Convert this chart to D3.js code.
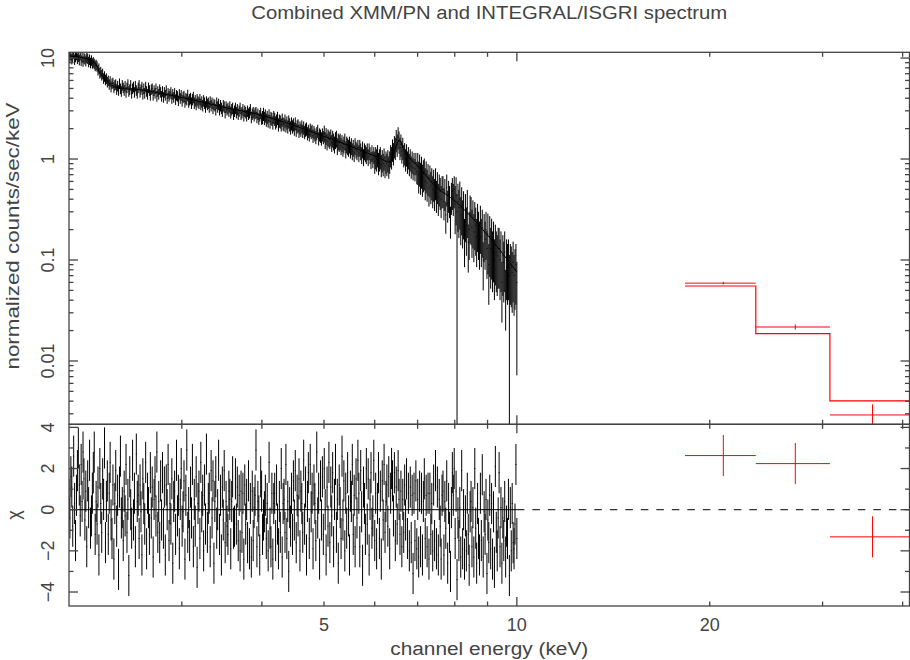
<!DOCTYPE html>
<html><head><meta charset="utf-8">
<script src="https://cdn.jsdelivr.net/npm/d3@7"></script>
<style>
body{margin:0;background:#fff}
svg{display:block}
text{font-family:"Liberation Sans",Arial,sans-serif;fill:#444;font-size:18px}
</style>
</head><body><svg id="c" width="910" height="660"></svg>
<script>
// ---------- data ----------
const title = "Combined XMM/PN and INTEGRAL/ISGRI spectrum";
const xTitle = "channel energy (keV)";
const yTopTitle = "normalized counts/sec/keV";
const yBotTitle = "\u03c7";

// XMM/PN channel grid: first and last channel centre (keV), channels evenly spaced in log E
const chanRange = [2.0, 10.0];

// XMM/PN normalized counts/sec/keV, one value per channel
const pnRate = [
 10.9,10.1,10.7,9.8,10.4,11.2,9.7,10.3,10.8,9.9,
 10.4,9.6,10.9,9.5,10.2,9.3,10.0,9.8,9.4,10.1,
 9.9,9.2,9.7,9.0,9.5,8.9,9.1,8.8,8.4,8.6,
 8.3,7.6,7.9,7.1,7.3,6.8,7.0,6.3,6.6,6.1,
 6.3,5.8,6.0,5.5,5.9,5.2,5.6,5.7,5.1,5.4,
 5.5,4.9,5.3,4.8,5.6,5.0,4.7,5.4,5.1,4.8,
 5.3,4.6,5.1,5.5,4.7,4.9,5.4,4.5,5.0,5.2,
 4.6,5.3,4.8,4.5,5.1,5.4,4.6,4.9,5.2,4.4,
 5.0,4.5,5.2,4.7,4.4,5.1,4.8,4.3,4.9,5.0,
 4.3,4.8,4.5,5.0,4.2,4.7,4.4,4.9,4.6,4.2,
 4.7,4.1,4.6,4.3,4.8,4.0,4.5,4.2,4.4,4.6,
 4.0,4.4,4.1,4.5,3.9,4.3,4.2,3.8,4.4,4.0,
 4.3,3.8,4.1,4.2,3.7,4.0,3.9,4.3,3.7,3.9,
 4.0,3.6,3.9,4.1,3.6,3.8,3.5,3.9,3.7,3.6,
 3.9,3.5,3.7,3.4,3.8,3.6,3.3,3.7,3.5,3.6,
 3.3,3.7,3.4,3.6,3.2,3.5,3.4,3.1,3.6,3.3,
 3.5,3.1,3.4,3.2,3.0,3.4,3.3,2.9,3.3,3.1,
 3.2,3.0,3.3,2.9,3.1,3.2,2.8,3.0,3.2,2.9,
 3.1,2.8,3.0,3.2,2.8,2.9,3.1,2.7,3.0,2.9,
 2.7,3.0,2.8,2.9,3.1,2.6,2.8,2.9,2.7,2.85,
 2.9,2.6,2.8,2.5,2.7,2.85,2.5,2.6,2.8,2.55,
 2.7,2.45,2.6,2.4,2.7,2.35,2.55,2.5,2.3,2.6,
 2.5,2.3,2.4,2.55,2.2,2.4,2.35,2.2,2.45,2.25,
 2.2,2.4,2.15,2.3,2.1,2.35,2.2,2.05,2.25,2.1,
 2.2,2.0,2.25,1.95,2.1,2.15,1.9,2.05,1.95,2.1,
 1.9,2.05,1.85,1.95,2.0,1.8,1.9,1.75,1.95,1.85,
 1.9,1.7,1.85,1.75,1.65,1.8,1.9,1.6,1.75,1.7,
 1.6,1.75,1.65,1.8,1.55,1.7,1.5,1.65,1.6,1.55,
 1.65,1.45,1.6,1.5,1.4,1.55,1.6,1.35,1.5,1.45,
 1.5,1.35,1.45,1.3,1.4,1.5,1.25,1.4,1.35,1.3,
 1.4,1.25,1.35,1.2,1.3,1.15,1.35,1.25,1.2,1.3,
 1.15,1.3,1.2,1.1,1.25,1.05,1.2,1.15,1.1,1.2,
 1.05,1.2,1.1,0.98,1.15,1.0,1.1,0.95,1.05,1.0,
 1.1,0.92,1.0,1.05,0.88,0.98,0.9,1.02,0.86,0.95,
 0.9,0.98,0.85,0.95,1.1,1.05,1.25,1.15,1.35,1.3,
 1.55,1.4,1.65,1.5,1.3,1.4,1.2,1.3,1.1,1.15,
 1.0,1.12,0.95,1.05,0.9,1.0,0.85,0.95,0.82,0.92,
 0.8,0.92,0.75,0.85,0.7,0.82,0.68,0.78,0.65,0.72,
 0.75,0.6,0.7,0.58,0.66,0.52,0.64,0.55,0.6,0.5,
 0.58,0.47,0.6,0.45,0.55,0.42,0.52,0.48,0.4,0.5,
 0.5,0.38,0.47,0.28,0.52,0.36,0.45,0.4,0.25,0.43,
 0.48,0.42,0.5,0.36,0.44,0.3,0.38,0.33,0.4,0.28,
 0.35,0.26,0.32,0.17,0.3,0.22,0.33,0.15,0.2,0.29,
 0.28,0.21,0.26,0.19,0.25,0.22,0.17,0.24,0.2,0.16,
 0.23,0.17,0.21,0.1,0.19,0.16,0.2,0.13,0.18,0.09,
 0.17,0.13,0.16,0.12,0.15,0.1,0.14,0.12,0.11,0.13,
 0.13,0.1,0.12,0.06,0.11,0.095,0.12,0.05,0.1,0.09,
 0.1,0.07,0.09,0.085,0.075,0.095,0.07,0.08,0.09,0.06
];

// XMM/PN residuals (chi), one value per channel
const pnChi = [
 0.5,-0.4,1.6,1.1,-0.8,2.6,0.3,-1.5,0.7,1.9,
 3.0,1.2,-0.3,2.2,0.4,2.8,1.5,-0.5,0.9,-1.8,
 1.4,0.1,2.4,-0.9,-0.3,0.8,1.8,2.8,-1.2,0.4,
 -0.7,1.1,-2.2,2.0,0.3,-1.1,1.5,0.5,3.0,-1.6,
 0.4,1.4,-1.2,0.8,2.3,-0.5,-1.4,1.2,-2.4,0.3,
 1.9,-0.8,0.7,-2.9,1.1,2.6,-0.4,0.1,-1.5,0.9,
 -0.3,2.2,-1.1,0.5,-3.2,1.6,0.0,-0.9,2.4,-0.5,
 0.8,-1.8,2.7,0.4,0.7,-1.4,1.2,-0.1,-2.2,1.5,
 0.3,-0.7,2.3,-1.9,0.8,0.1,-1.2,1.8,-0.4,1.1,
 -2.3,0.5,1.6,-0.3,2.8,-1.1,0.4,-1.6,1.4,-0.5,
 1.8,-0.9,1.1,-2.2,1.2,0.0,2.2,-1.5,0.3,-0.7,
 1.5,-2.6,0.4,0.9,-1.2,2.4,-0.3,0.7,-1.9,0.5,
 2.0,-0.8,-0.1,1.4,-2.4,0.7,2.9,-1.1,0.1,-1.5,
 1.1,-0.4,2.2,-1.8,0.5,-0.8,1.6,-2.8,0.3,0.9,
 -1.4,2.3,-0.1,0.7,-2.0,1.2,-0.7,2.7,-1.1,0.3,
 0.8,-1.8,1.9,-0.4,1.4,-2.6,0.4,1.6,-0.9,0.0,
 2.4,-1.2,0.7,-2.2,1.1,-0.5,1.9,-1.6,0.4,-0.8,
 -1.2,0.9,0.5,-1.9,0.4,1.6,-0.9,-0.8,1.5,-0.7,
 1.1,-1.5,0.7,-2.0,0.9,-1.1,0.8,-2.4,1.2,-0.7,
 0.5,-1.6,1.4,-1.9,0.3,-2.3,0.9,-1.5,0.1,0.7,
 2.9,-1.8,0.4,-0.3,-2.2,1.6,0.9,-1.2,-0.5,-0.1,
 0.7,-1.4,0.3,-2.0,2.3,-0.9,-1.8,0.8,-2.4,0.3,
 0.8,-1.5,1.2,-0.7,-1.9,0.4,-1.1,2.0,-2.3,0.3,
 0.5,-1.1,2.2,-1.4,0.4,-3.0,0.1,-0.8,0.8,-1.2,
 1.4,-0.5,1.9,-1.6,0.7,-0.3,1.5,-2.0,0.9,0.3,
 -1.1,2.4,-0.7,1.1,-2.2,0.4,1.8,-1.4,2.2,-0.1,
 0.8,-1.9,1.2,0.3,-1.5,2.8,-0.4,0.8,-2.4,1.4,
 -0.5,1.6,-1.2,2.0,0.0,-2.2,1.1,-0.8,2.3,-1.6,
 1.1,-0.3,1.8,-1.8,0.5,2.2,-1.1,0.5,-2.6,1.2,
 0.1,-1.4,2.6,-0.5,1.4,-2.0,0.8,-0.9,1.8,-0.3,
 -2.2,0.9,0.4,2.2,-1.2,0.7,-1.8,1.5,-0.4,2.4,
 0.8,-1.8,1.9,-0.1,-2.7,1.1,0.3,-1.2,2.0,-0.7,
 1.5,-2.2,0.5,1.8,-0.9,-0.3,2.4,-1.5,0.8,-1.9,
 0.3,1.8,-1.4,0.9,-2.4,1.4,-0.5,2.2,-1.1,0.4,
 1.2,-0.8,1.6,-1.9,0.8,2.0,1.4,-0.3,1.8,-1.5,
 1.1,-0.7,1.9,0.5,-1.2,0.9,-1.8,0.5,-1.1,1.2,
 -0.5,1.5,-1.4,0.8,-2.0,1.1,-1.6,0.7,-3.1,0.8,
 -1.5,1.4,-1.9,0.5,-2.3,0.9,-1.8,0.8,-2.2,0.4,
 1.5,-1.4,0.7,-1.8,0.8,-2.4,0.8,-1.2,0.3,-2.0,
 1.2,-1.5,1.9,-1.9,1.1,-2.2,0.5,-0.8,-2.4,0.7,
 0.9,-2.2,0.4,-0.9,1.4,-2.6,0.3,-1.1,-3.0,0.1,
 1.8,0.7,2.0,-1.4,0.9,-3.4,-0.4,-1.5,0.1,-2.3,
 1.9,-1.9,0.0,-2.4,-0.3,-2.0,0.8,-1.2,-2.7,-0.1,
 0.4,-1.8,0.1,-2.3,2.0,-0.9,-2.6,0.3,-1.4,-2.2,
 0.8,-1.5,1.7,-2.3,-0.1,-1.2,0.5,-3.1,-0.5,-1.6,
 0.7,-1.9,0.3,-2.4,-0.1,-2.8,2.1,-1.1,-2.0,-0.4,
 1.8,-1.8,0.1,-2.6,-0.4,-1.5,0.4,-2.3,-0.8,-1.4,
 0.5,-3.2,0.1,-2.0,0.3,-1.6,-1.9,-0.7,2.2,-1.4
];

// relative error of PN points, by energy band (upper band edge, keV)
const pnErrBandE    = [3, 4, 5, 6, 7, 8, 9, 10.5];
const pnErrBandFrac = [0.12,0.13,0.15,0.19,0.25,0.35,0.5,0.6];
// channels whose error bar reaches down to this value
const pnLowChan  = [415, 471, 479];
const pnLowValue = [0, 0, 0.0072];

// PN model curve
const modelE = [2.0,2.16,2.2,2.23,2.29,2.33,2.40,2.61,2.77,3.13,3.53,3.87,4.38,4.93,5.55,6.11,6.33,6.45,6.55,6.67,6.81,7.05,7.39,8.06,8.85,10.0];
const modelV = [10.5,9.55,8.9,7.27,6.06,5.4,5.05,4.82,4.5,3.84,3.2,2.85,2.27,1.73,1.31,1.02,0.93,1.23,1.54,1.23,1.02,0.82,0.57,0.37,0.2,0.076];

// INTEGRAL/ISGRI
const isgriLo    = [18.3, 23.6, 30.8];
const isgriHi    = [23.6, 30.8, 41.9];
const isgriE     = [21.0, 27.2, 35.9];
const isgriRate  = [0.059, 0.0217, 0.00292];
const isgriErr   = [0.0017, 0.0013, 0.0008];
const isgriModel = [0.0553, 0.0187, 0.00402];
const isgriChi   = [2.63, 2.24, -1.32];

// axes
const xDomain = [2.0, 41.0];
const yTopDomain = [0.00236, 11.4];
const yBotDomain = [-4.68, 4.15];
const xMinorTicks = [3,4,5,6,7,8,9,20,30,40];
const xMajorTicks = [10];
const xTickLabels = [5,10,20];
const yTopMajor = [0.01,0.1,1,10];
const yTopLabels = ["0.01","0.1","1","10"];
const chiMajor = [-4,-2,0,2,4];
const chiMinor = [-3,-1,1,3];

// ---------- drawing ----------
const L = 69, R = 909.5, T = 52.3, MID = 424.3, B = 606;
const svg = d3.select("#c");
const x = d3.scaleLog().domain(xDomain).range([L, R]);
const yT = d3.scaleLog().domain(yTopDomain).range([MID, T]);
const yB = d3.scaleLinear().domain(yBotDomain).range([B, MID]);

const defs = svg.append("defs");
defs.append("clipPath").attr("id","clipT").append("rect").attr("x",L).attr("y",T).attr("width",R-L).attr("height",MID-T);
defs.append("clipPath").attr("id","clipB").append("rect").attr("x",L).attr("y",MID).attr("width",R-L).attr("height",B-MID);

// PN channel geometry
const n = pnRate.length;
const step = Math.log(chanRange[1]/chanRange[0])/(n-1);
const chans = pnRate.map((r,i)=>{
  const e = chanRange[0]*Math.exp(i*step);
  const k = pnErrBandE.findIndex(b => e < b);
  const frac = pnErrBandFrac[k < 0 ? pnErrBandFrac.length-1 : k];
  let lo = r*(1-frac), hi = r*(1+frac);
  const j = pnLowChan.indexOf(i);
  if (j >= 0) lo = pnLowValue[j];
  return {e, lo0: e*Math.exp(-step/2), hi0: e*Math.exp(step/2), r, lo, hi, chi: pnChi[i]};
});

const gT = svg.append("g").attr("clip-path","url(#clipT)");
const gB = svg.append("g").attr("clip-path","url(#clipB)");

// top panel PN data
const pnPath = d3.path();
chans.forEach(c=>{
  pnPath.moveTo(x(c.e), yT(Math.max(c.lo,1e-5)));
  pnPath.lineTo(x(c.e), yT(c.hi));
  pnPath.moveTo(x(c.lo0), yT(c.r));
  pnPath.lineTo(x(c.hi0), yT(c.r));
});
gT.append("path").attr("d",pnPath.toString()).attr("stroke","#000").attr("stroke-width",1).attr("fill","none");

// PN model
const line = d3.line().x(d=>x(d[0])).y(d=>yT(d[1])).curve(d3.curveMonotoneX);
gT.append("path").attr("d", line(modelE.map((e,i)=>[e,modelV[i]])))
  .attr("stroke","#000").attr("stroke-width",1).attr("fill","none");

// ISGRI model (step)
const im = d3.path();
im.moveTo(x(isgriLo[0]), yT(isgriModel[0]));
isgriModel.forEach((m,i)=>{
  if (i>0) im.lineTo(x(isgriLo[i]), yT(m));
  im.lineTo(x(isgriHi[i]), yT(m));
});
gT.append("path").attr("d",im.toString()).attr("stroke","#f00").attr("stroke-width",1.2).attr("fill","none");
// ISGRI data
const idp = d3.path();
isgriRate.forEach((r,i)=>{
  idp.moveTo(x(isgriLo[i]), yT(r)); idp.lineTo(x(isgriHi[i]), yT(r));
  idp.moveTo(x(isgriE[i]), yT(Math.max(r-isgriErr[i],1e-5))); idp.lineTo(x(isgriE[i]), yT(r+isgriErr[i]));
});
gT.append("path").attr("d",idp.toString()).attr("stroke","#f00").attr("stroke-width",1).attr("fill","none");

// bottom panel zero lines
gB.append("line").attr("x1",x(chanRange[0])).attr("x2",x(10)).attr("y1",yB(0)).attr("y2",yB(0))
  .attr("stroke","#000").attr("stroke-width",1);
gB.append("line").attr("x1",x(10)).attr("x2",R).attr("y1",yB(0)).attr("y2",yB(0))
  .attr("stroke","#333").attr("stroke-width",1.2).attr("stroke-dasharray","7.5,8");

// PN residuals
const rp = d3.path();
chans.forEach(c=>{
  rp.moveTo(x(c.e), yB(c.chi-1)); rp.lineTo(x(c.e), yB(c.chi+1));
  rp.moveTo(x(c.lo0), yB(c.chi)); rp.lineTo(x(c.hi0), yB(c.chi));
});
gB.append("path").attr("d",rp.toString()).attr("stroke","#000").attr("stroke-width",1).attr("fill","none");

// ISGRI residuals
const ir = d3.path();
isgriChi.forEach((c,i)=>{
  ir.moveTo(x(isgriLo[i]), yB(c)); ir.lineTo(x(isgriHi[i]), yB(c));
  ir.moveTo(x(isgriE[i]), yB(c-1)); ir.lineTo(x(isgriE[i]), yB(c+1));
});
gB.append("path").attr("d",ir.toString()).attr("stroke","#f00").attr("stroke-width",1).attr("fill","none");

// ---------- frames & ticks ----------
const ax = svg.append("g").attr("stroke","#444").attr("stroke-width",1.3).attr("fill","none");
ax.append("rect").attr("x",L).attr("y",T).attr("width",R-L).attr("height",MID-T);
ax.append("rect").attr("x",L).attr("y",MID).attr("width",R-L).attr("height",B-MID);
const MAJ = 9, MIN = 4.5;
function xTicks(yLine, dir){
  xMinorTicks.forEach(v=>ax.append("line").attr("x1",x(v)).attr("x2",x(v)).attr("y1",yLine).attr("y2",yLine+dir*MIN));
  xMajorTicks.forEach(v=>ax.append("line").attr("x1",x(v)).attr("x2",x(v)).attr("y1",yLine).attr("y2",yLine+dir*MAJ));
}
xTicks(T, 1); xTicks(MID, -1); xTicks(MID, 1); xTicks(B, -1);
const yTopMinor = yT.ticks().filter(v => !yTopMajor.some(m => Math.abs(m-v)/m < 1e-6));
function yTicks(scale, major, minor){
  [[L,1],[R,-1]].forEach(([xx,dir])=>{
    minor.forEach(v=>ax.append("line").attr("x1",xx).attr("x2",xx+dir*MIN).attr("y1",scale(v)).attr("y2",scale(v)));
    major.forEach(v=>ax.append("line").attr("x1",xx).attr("x2",xx+dir*MAJ).attr("y1",scale(v)).attr("y2",scale(v)));
  });
}
yTicks(yT, yTopMajor, yTopMinor);
yTicks(yB, chiMajor, chiMinor);

// ---------- labels ----------
svg.append("text").attr("x",(L+R)/2).attr("y",19).attr("text-anchor","middle")
  .attr("textLength",476).attr("lengthAdjust","spacingAndGlyphs").text(title);
svg.append("text").attr("x",(L+R)/2).attr("y",655).attr("text-anchor","middle")
  .attr("textLength",198).attr("lengthAdjust","spacingAndGlyphs").text(xTitle);
svg.append("text").attr("transform",`translate(19,236) rotate(-90)`).attr("text-anchor","middle")
  .attr("textLength",267).attr("lengthAdjust","spacingAndGlyphs").text(yTopTitle);
svg.append("text").attr("transform",`translate(20,${(MID+B)/2}) rotate(-90)`).attr("text-anchor","middle").text(yBotTitle);

xTickLabels.forEach(v=>svg.append("text").attr("x",x(v)).attr("y",631).attr("text-anchor","middle").text(v));
yTopMajor.forEach((v,i)=>svg.append("text").attr("transform",`translate(53.5,${yT(v)}) rotate(-90)`).attr("text-anchor","middle").text(yTopLabels[i]));
chiMajor.forEach(v=>svg.append("text").attr("transform",`translate(53.5,${yB(v)}) rotate(-90)`).attr("text-anchor","middle").text(v<0?"\u2212"+(-v):String(v)));
</script>
</body></html>
